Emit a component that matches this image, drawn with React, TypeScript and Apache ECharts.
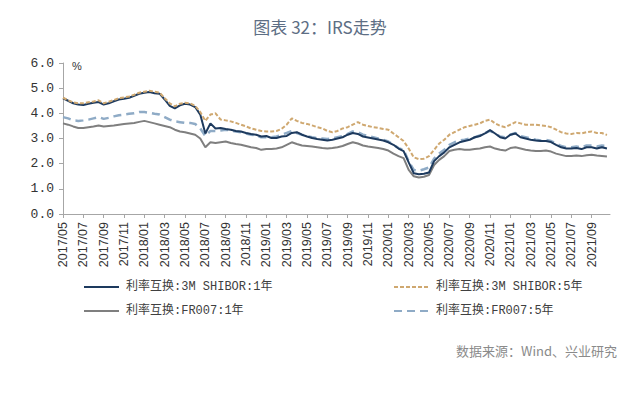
import React, { useEffect, useRef } from "react";
import * as echarts from "echarts";

// Half-month samples starting 2017/05 (index i -> month offset i/2)
const START = "2017/05";
const X_TICKS = [
  "2017/05", "2017/07", "2017/09", "2017/11", "2018/01", "2018/03", "2018/05", "2018/07", "2018/09",
  "2018/11", "2019/01", "2019/03", "2019/05", "2019/07", "2019/09", "2019/11", "2020/01", "2020/03",
  "2020/05", "2020/07", "2020/09", "2020/11", "2021/01", "2021/03", "2021/05", "2021/07", "2021/09",
];
const X_END = "2021/10/25";
const Y_TICKS = [0, 1, 2, 3, 4, 5, 6];

const SHIBOR_1Y = [
  4.60, 4.50, 4.40, 4.35, 4.33, 4.38, 4.42, 4.45, 4.35, 4.40, 4.48, 4.55, 4.58, 4.62, 4.70, 4.78,
  4.82, 4.85, 4.80, 4.78, 4.55, 4.30, 4.20, 4.32, 4.38, 4.35, 4.25, 3.95, 3.20, 3.60, 3.40, 3.42,
  3.38, 3.35, 3.30, 3.28, 3.22, 3.18, 3.15, 3.08, 3.10, 3.02, 3.02, 3.08, 3.10, 3.22, 3.25, 3.15,
  3.08, 3.02, 2.98, 2.95, 2.92, 2.95, 3.00, 3.05, 3.15, 3.22, 3.18, 3.08, 3.04, 3.00, 2.96, 2.92,
  2.85, 2.75, 2.60, 2.50, 2.05, 1.62, 1.58, 1.60, 1.65, 2.10, 2.30, 2.45, 2.65, 2.75, 2.85, 2.90,
  2.95, 3.05, 3.10, 3.20, 3.33, 3.20, 3.05, 3.00, 3.15, 3.20, 3.05, 3.00, 2.95, 2.92, 2.90, 2.90,
  2.86, 2.75, 2.65, 2.60, 2.60, 2.62, 2.58, 2.65, 2.65, 2.60, 2.65, 2.60,
];
const SHIBOR_5Y = [
  4.62, 4.52, 4.44, 4.40, 4.40, 4.44, 4.47, 4.52, 4.40, 4.46, 4.53, 4.60, 4.63, 4.67, 4.74, 4.82,
  4.86, 4.90, 4.86, 4.82, 4.60, 4.40, 4.28, 4.38, 4.42, 4.40, 4.30, 4.05, 3.70, 3.95, 4.00, 3.75,
  3.72, 3.68, 3.62, 3.55, 3.48, 3.40, 3.35, 3.30, 3.28, 3.28, 3.30, 3.38, 3.55, 3.80, 3.70, 3.62,
  3.58, 3.52, 3.45, 3.40, 3.30, 3.25, 3.30, 3.40, 3.45, 3.55, 3.65, 3.55, 3.50, 3.45, 3.42, 3.38,
  3.35, 3.20, 3.05, 2.90, 2.60, 2.25, 2.18, 2.20, 2.30, 2.55, 2.80, 2.95, 3.15, 3.25, 3.35, 3.45,
  3.50, 3.55, 3.60, 3.70, 3.75, 3.60, 3.50, 3.45, 3.55, 3.65, 3.60, 3.55, 3.55, 3.55, 3.52, 3.50,
  3.45, 3.35, 3.25, 3.20, 3.18, 3.22, 3.20, 3.25, 3.28, 3.22, 3.22, 3.14,
];
const FR007_1Y = [
  3.60, 3.55, 3.48, 3.42, 3.42, 3.45, 3.48, 3.52, 3.48, 3.50, 3.52, 3.55, 3.58, 3.60, 3.62, 3.66,
  3.70, 3.65, 3.60, 3.55, 3.50, 3.45, 3.35, 3.28, 3.25, 3.20, 3.15, 3.00, 2.65, 2.85, 2.82, 2.85,
  2.88, 2.82, 2.78, 2.75, 2.70, 2.65, 2.62, 2.55, 2.58, 2.58, 2.60, 2.65, 2.75, 2.85, 2.78, 2.72,
  2.70, 2.68, 2.65, 2.62, 2.60, 2.62, 2.65, 2.70, 2.78, 2.85, 2.80, 2.72, 2.68, 2.65, 2.62, 2.58,
  2.52, 2.40, 2.30, 2.22, 1.75, 1.50, 1.45, 1.48, 1.55, 1.95, 2.15, 2.30, 2.50, 2.55, 2.58, 2.55,
  2.55, 2.58, 2.60, 2.65, 2.68, 2.60, 2.55, 2.52, 2.62, 2.65, 2.60, 2.55, 2.52, 2.50, 2.50, 2.52,
  2.48, 2.40, 2.35, 2.30, 2.30, 2.32, 2.30, 2.33, 2.35, 2.32, 2.30, 2.28,
];
const FR007_5Y = [
  3.85, 3.80, 3.72, 3.70, 3.72, 3.75, 3.80, 3.85, 3.78, 3.82, 3.88, 3.92, 3.95, 3.98, 4.00, 4.05,
  4.05, 4.02, 3.98, 3.95, 3.85, 3.75, 3.68, 3.65, 3.62, 3.62, 3.58, 3.40, 3.10, 3.30, 3.30, 3.32,
  3.35, 3.32, 3.28, 3.25, 3.20, 3.15, 3.12, 3.05, 3.05, 3.05, 3.08, 3.15, 3.22, 3.30, 3.22, 3.15,
  3.10, 3.05, 3.02, 3.00, 2.98, 3.00, 3.05, 3.10, 3.18, 3.28, 3.25, 3.15, 3.10, 3.05, 3.00, 2.95,
  2.88, 2.75, 2.62, 2.55, 2.10, 1.75, 1.72, 1.78, 1.85, 2.20, 2.40, 2.55, 2.75, 2.85, 2.92, 2.95,
  3.00, 3.05, 3.12, 3.22, 3.30, 3.20, 3.08, 3.05, 3.15, 3.22, 3.10, 3.05, 3.00, 2.95, 2.92, 2.95,
  2.90, 2.80, 2.70, 2.65, 2.65, 2.68, 2.65, 2.72, 2.72, 2.68, 2.72, 2.70,
];

const NAMES = ["利率互换:3M SHIBOR:1年", "利率互换:3M SHIBOR:5年", "利率互换:FR007:1年", "利率互换:FR007:5年"];

function monthIndex(s: string): number {
  const [y0, m0] = START.split("/").map(Number);
  const parts = s.split("/").map(Number);
  const base = (parts[0] - y0) * 12 + (parts[1] - m0);
  return parts.length > 2 ? base + (parts[2] - 1) / 30 : base;
}
function labelFor(v: number): string {
  const [y0, m0] = START.split("/").map(Number);
  const total = y0 * 12 + (m0 - 1) + Math.round(v);
  const y = Math.floor(total / 12);
  const m = (total % 12) + 1;
  return `${y}/${m < 10 ? "0" + m : m}`;
}
const toPairs = (arr: number[]) => arr.map((v, i) => [i / 2, v]);

const MONO = "'Liberation Mono', 'Noto Sans CJK SC', monospace";

const legendCommon = {
  orient: "vertical",
  top: 276,
  itemWidth: 35,
  itemHeight: 14,
  itemGap: 12,
  itemStyle: { opacity: 0, borderWidth: 0 },
  textStyle: { fontFamily: MONO, fontSize: 12, color: "#404040", padding: [0, 0, 0, 2] },
};

export default function App() {
  const ref = useRef<HTMLDivElement>(null);
  useEffect(() => {
    if (!ref.current) return;
    const chart = echarts.init(ref.current, null, { renderer: "svg" });
    const tickVals = X_TICKS.map(monthIndex);
    chart.setOption({
      animation: false,
      backgroundColor: "#ffffff",
      title: {
        text: "图表 32：IRS走势",
        left: "center",
        top: 13,
        textStyle: { fontFamily: "'Noto Sans CJK SC'", fontSize: 17, fontWeight: "normal", color: "#5d6e84" },
      },
      graphic: [
        { type: "text", left: 72, top: 60, style: { text: "%", fontSize: 11, fill: "#333", fontFamily: "Liberation Sans" } },
        {
          type: "text", right: 23, top: 344,
          style: { text: "数据来源：Wind、兴业研究", fontSize: 13, fill: "#8a8a8a", fontFamily: "'Noto Sans CJK SC'" },
        },
      ],
      legend: [
        { ...legendCommon, data: [NAMES[0], NAMES[2]], left: 78 },
        { ...legendCommon, data: [NAMES[1], NAMES[3]], left: 388 },
      ],
      grid: { left: 63, right: 30, top: 63, bottom: 184 },
      xAxis: {
        type: "value",
        min: 0,
        max: monthIndex(X_END),
        interval: 2,
        axisLine: { lineStyle: { color: "#a6a6a6" } },
        axisTick: { show: true, length: 4, customValues: tickVals, lineStyle: { color: "#a6a6a6" } },
        axisLabel: {
          customValues: tickVals,
          rotate: 90,
          margin: 8,
          fontSize: 12.5,
          fontFamily: "Liberation Sans",
          color: "#333",
          formatter: (v: number) => labelFor(v),
        },
        splitLine: { show: false },
      },
      yAxis: {
        type: "value",
        min: Y_TICKS[0],
        max: Y_TICKS[Y_TICKS.length - 1],
        interval: 1,
        axisLine: { show: true, lineStyle: { color: "#a6a6a6" } },
        axisTick: { show: true, length: 4, lineStyle: { color: "#a6a6a6" } },
        axisLabel: { fontFamily: MONO, fontSize: 13, color: "#333", margin: 9, formatter: (v: number) => v.toFixed(1) },
        splitLine: { show: false },
      },
      series: [
        {
          name: NAMES[2], type: "line", data: toPairs(FR007_1Y), symbol: "none", z: 2,
          lineStyle: { color: "#7f7f7f", width: 2 }, itemStyle: { color: "#7f7f7f" },
        },
        {
          name: NAMES[3], type: "line", data: toPairs(FR007_5Y), symbol: "none", z: 3,
          lineStyle: { color: "#8fabc6", width: 2.5, type: [8, 5] }, itemStyle: { color: "#8fabc6" },
        },
        {
          name: NAMES[0], type: "line", data: toPairs(SHIBOR_1Y), symbol: "none", z: 4,
          lineStyle: { color: "#1d3a5e", width: 2 }, itemStyle: { color: "#1d3a5e" },
        },
        {
          name: NAMES[1], type: "line", data: toPairs(SHIBOR_5Y), symbol: "none", z: 5,
          lineStyle: { color: "#cfa870", width: 2, type: [4, 2] }, itemStyle: { color: "#cfa870" },
        },
      ],
    });
    return () => chart.dispose();
  }, []);
  return <div ref={ref} style={{ position: "fixed", left: 0, top: 0, width: 640, height: 398, background: "#fff" }} />;
}
